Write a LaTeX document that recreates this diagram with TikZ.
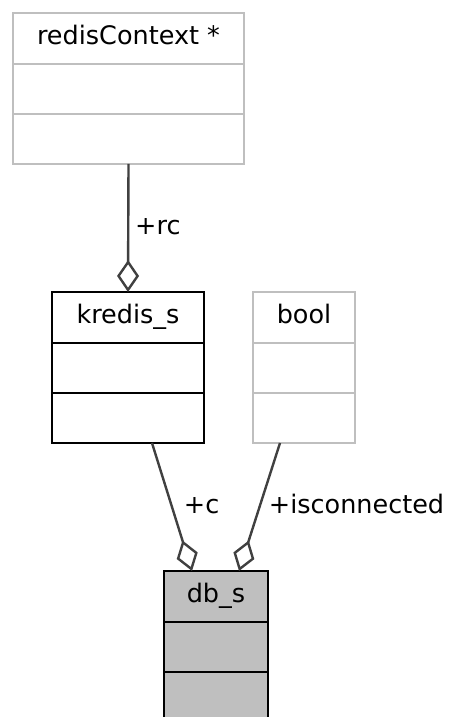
\documentclass[tikz,border=0pt]{standalone}
\usepackage{fontspec}
\setmainfont{DejaVu Sans}
\usetikzlibrary{arrows.meta,calc}
\definecolor{boxgray}{HTML}{BFBFBF}
\definecolor{edgegray}{HTML}{404040}
\begin{document}
\begin{tikzpicture}[x=1pt,y=1pt,
  classbox/.style={draw=black, line width=2.4pt, fill=white,
    minimum width=#1, minimum height=151pt, inner sep=0pt, outer sep=0pt},
  extbox/.style={classbox=#1, draw=boxgray},
  mainbox/.style={classbox=#1, fill=boxgray},
  title/.style={anchor=base, inner sep=0pt, font=\fontsize{25.5}{30}\selectfont},
  lbl/.style={anchor=base west, inner sep=0pt, font=\fontsize{25.5}{30}\selectfont},
  assoc/.style={draw=edgegray, line width=2.4pt,
    -{Diamond[open, fill=white, length=32pt, width=22pt]}}
]
\fill[white] (0,0) rectangle (450,717);
\useasboundingbox (0,0) rectangle (450,717);

% class boxes
\node[extbox=231pt] (redis) at (128.5,628.5) {};
\node[classbox=152pt] (kredis) at (128,349.5) {};
\node[extbox=102pt] (bool) at (304,349.5) {};
\node[mainbox=104pt] (db) at (216,70.5) {};

% titles
\node[title] (tredis) at ([yshift=-32pt]redis.north) {redisContext *};
\node[title] (tkredis) at ([yshift=-32pt]kredis.north) {kredis\_s};
\node[title] (tbool) at ([yshift=-32pt]bool.north) {bool};
\node[title] (tdb) at ([yshift=-32pt]db.north) {db\_s};

% compartment dividers
\foreach \n/\c in {redis/boxgray, kredis/black, bool/boxgray, db/black} {
  \draw[\c, line width=2.4pt] ([yshift=-51pt]\n.north west) -- ([yshift=-51pt]\n.north east);
  \draw[\c, line width=2.4pt] ([yshift=-101pt]\n.north west) -- ([yshift=-101pt]\n.north east);
}

% associations
\draw[assoc] (redis.south) -- (kredis.north);
\draw[assoc] ([xshift=24pt]kredis.south) -- ([xshift=-24pt]db.north);
\draw[assoc] ([xshift=-24pt]bool.south) -- ([xshift=23pt]db.north);

% association labels
\node[lbl] (lrc) at (135,482) {+rc};
\node[lbl] (lc) at (183.7,203) {+c};
\node[lbl] (lconn) at (268.7,203) {+isconnected};
\end{tikzpicture}
\end{document}
